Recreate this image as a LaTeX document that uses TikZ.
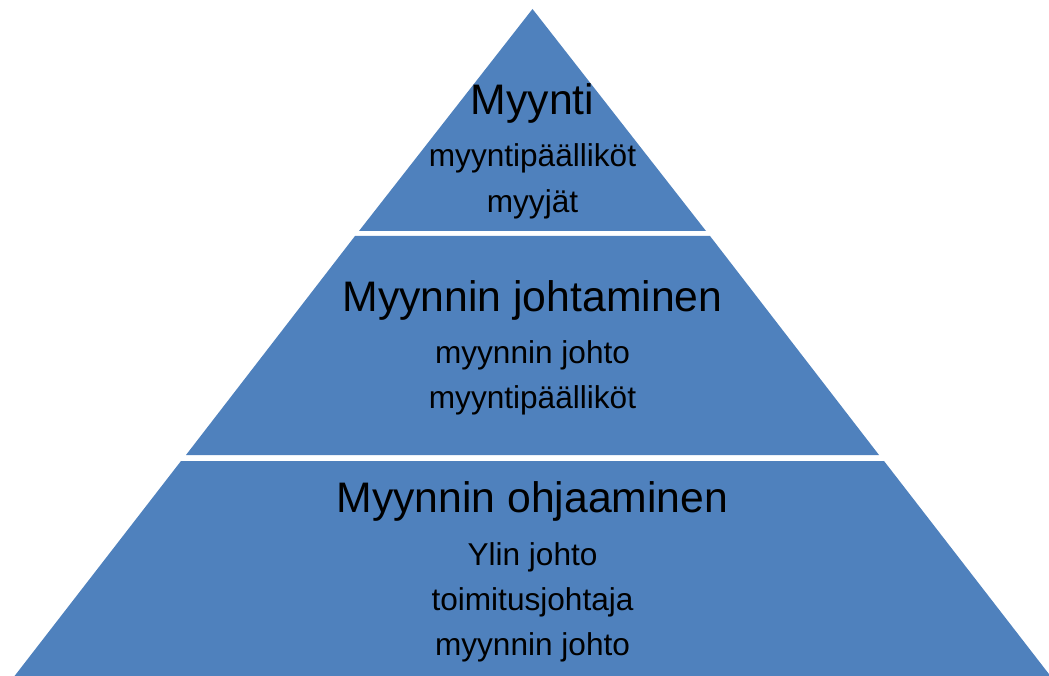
\documentclass[tikz,border=0pt]{standalone}
\usepackage{fontspec}
\setmainfont{Liberation Sans}
\definecolor{layerblue}{HTML}{4F81BD}
\begin{document}
\begin{tikzpicture}[x=1pt,y=-1pt,
  layer/.style={fill=layerblue,draw=none},
  title/.style={anchor=base,inner sep=0pt,font=\fontsize{42.7}{42.7}\selectfont},
  sub/.style={anchor=base,inner sep=0pt,font=\fontsize{31.6}{31.6}\selectfont}]
\useasboundingbox (0,0) rectangle (1049,676);
% layers
\fill[layer] (532.5,9) -- (706,231) -- (359,231) -- cycle;
\fill[layer] (355,236) -- (710,236) -- (879,455) -- (186,455) -- cycle;
\fill[layer] (181,461) -- (884,461) -- (1052,678) -- (13,678) -- cycle;
% texts
\node[title] (t1) at (532.5,115) {Myynti};
\node[sub] (s11) at (532.5,167) {myyntipäälliköt};
\node[sub] (s12) at (532.5,213) {myyjät};
\node[title] (t2) at (532.5,311) {Myynnin johtaminen};
\node[sub] (s21) at (532.5,363) {myynnin johto};
\node[sub] (s22) at (532.5,408) {myyntipäälliköt};
\node[title] (t3) at (532.5,512) {Myynnin ohjaaminen};
\node[sub] (s31) at (532.5,565) {Ylin johto};
\node[sub] (s32) at (532.5,610) {toimitusjohtaja};
\node[sub] (s33) at (532.5,655) {myynnin johto};
\end{tikzpicture}
\end{document}
